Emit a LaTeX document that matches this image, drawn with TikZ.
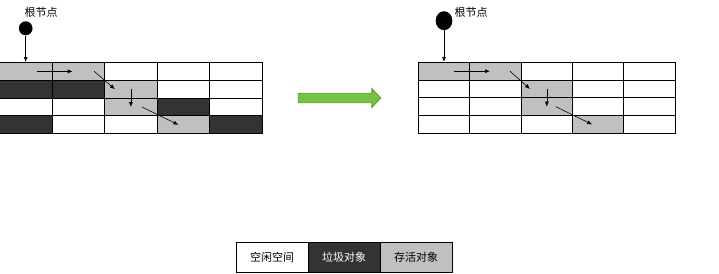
\documentclass[tikz,border=0pt]{standalone}
\usepackage{fontspec}
\newfontfamily\cjk{Noto Sans CJK SC}
\usetikzlibrary{arrows.meta,calc}
\definecolor{free}{HTML}{FFFFFF}
\definecolor{live}{HTML}{C0C0C0}
\definecolor{dead}{HTML}{333333}
\definecolor{movefill}{HTML}{78C144}
\definecolor{moveedge}{HTML}{5B9A2E}
\tikzset{
  cell/.style={draw=black, line width=0.9pt, rectangle, minimum height=17.8pt, inner sep=0pt, fill=#1},
  ref/.style={->, line width=0.6pt, draw=black, >={Latex[length=5pt,width=4pt]}},
  root/.style={fill=black, ellipse, inner sep=0pt},
  rootlabel/.style={font=\cjk\fontsize{11}{13}\selectfont},
  key/.style={draw=black, line width=0.9pt, rectangle, minimum width=72pt, minimum height=30pt, inner sep=0pt, fill=#1, font=\cjk\fontsize{11}{13}\selectfont}
}
\usetikzlibrary{shapes.geometric}

\begin{document}
\begin{tikzpicture}[x=1pt, y=-1pt]
  \useasboundingbox (0,0) rectangle (719,273);

  % heap before collection
  \foreach \r/\row in {0/{live,live,free,free,free},1/{dead,dead,live,free,free},2/{free,free,live,dead,free},3/{dead,free,free,live,dead}}{
    \foreach \f [count=\c from 0] in \row {
      \node[cell=\f, minimum width=52.6pt] (L-\r-\c) at (25.7+52.6*\c, 71.4+17.8*\r) {};
    }
  }
  % heap after collection
  \foreach \r/\row in {0/{live,live,free,free,free},1/{free,free,live,free,free},2/{free,free,live,free,free},3/{free,free,free,live,free}}{
    \foreach \f [count=\c from 0] in \row {
      \node[cell=\f, minimum width=51.4pt] (R-\r-\c) at (444+51.4*\c, 71.2+17.75*\r) {};
    }
  }

  \node[root, minimum width=13.7pt, minimum height=14pt] (rootL) at (25.7,28.3) {};
  \node[rootlabel] (rootLtext) at (41,12.5) {根节点};
  \node[root, minimum width=16.7pt, minimum height=19pt] (rootR) at (444,20.7) {};
  \node[rootlabel] (rootRtext) at (471,12) {根节点};

  \draw[ref] (rootL.south) -- (L-0-0.north);
  \draw[ref] ([xshift=11pt]L-0-0.center) -- ([xshift=-5.6pt]L-0-1.center);
  \draw[ref] ([xshift=16pt]L-0-1.center) -- ([xshift=-16pt]L-1-2.center);
  \draw[ref] (L-1-2.center) -- (L-2-2.center);
  \draw[ref] ([xshift=11pt]L-2-2.center) -- ([xshift=-5pt]L-3-3.center);

  \draw[ref] (rootR.south) -- (R-0-0.north);
  \draw[ref] ([xshift=10pt]R-0-0.center) -- ([xshift=-5.4pt]R-0-1.center);
  \draw[ref] ([xshift=14.6pt]R-0-1.center) -- ([xshift=-16.8pt]R-1-2.center);
  \draw[ref] (R-1-2.center) -- (R-2-2.center);
  \draw[ref] ([xshift=9pt]R-2-2.center) -- ([xshift=-6pt]R-3-3.center);

  % compaction arrow
  \draw[fill=movefill, draw=moveedge, line width=0.8pt, line join=miter]
    (298.3,93.3) -- (371.7,93.3) -- (371.7,88.3) -- (380.7,98) -- (371.7,107.7) -- (371.7,102.7) -- (298.3,102.7) -- cycle;

  % legend
  \node[key=free] (keyfree) at (272,257.3) {空闲空间};
  \node[key=dead, text=white] (keydead) at (344.2,257.3) {垃圾对象};
  \node[key=live] (keylive) at (416.2,257.3) {存活对象};
\end{tikzpicture}
\end{document}
